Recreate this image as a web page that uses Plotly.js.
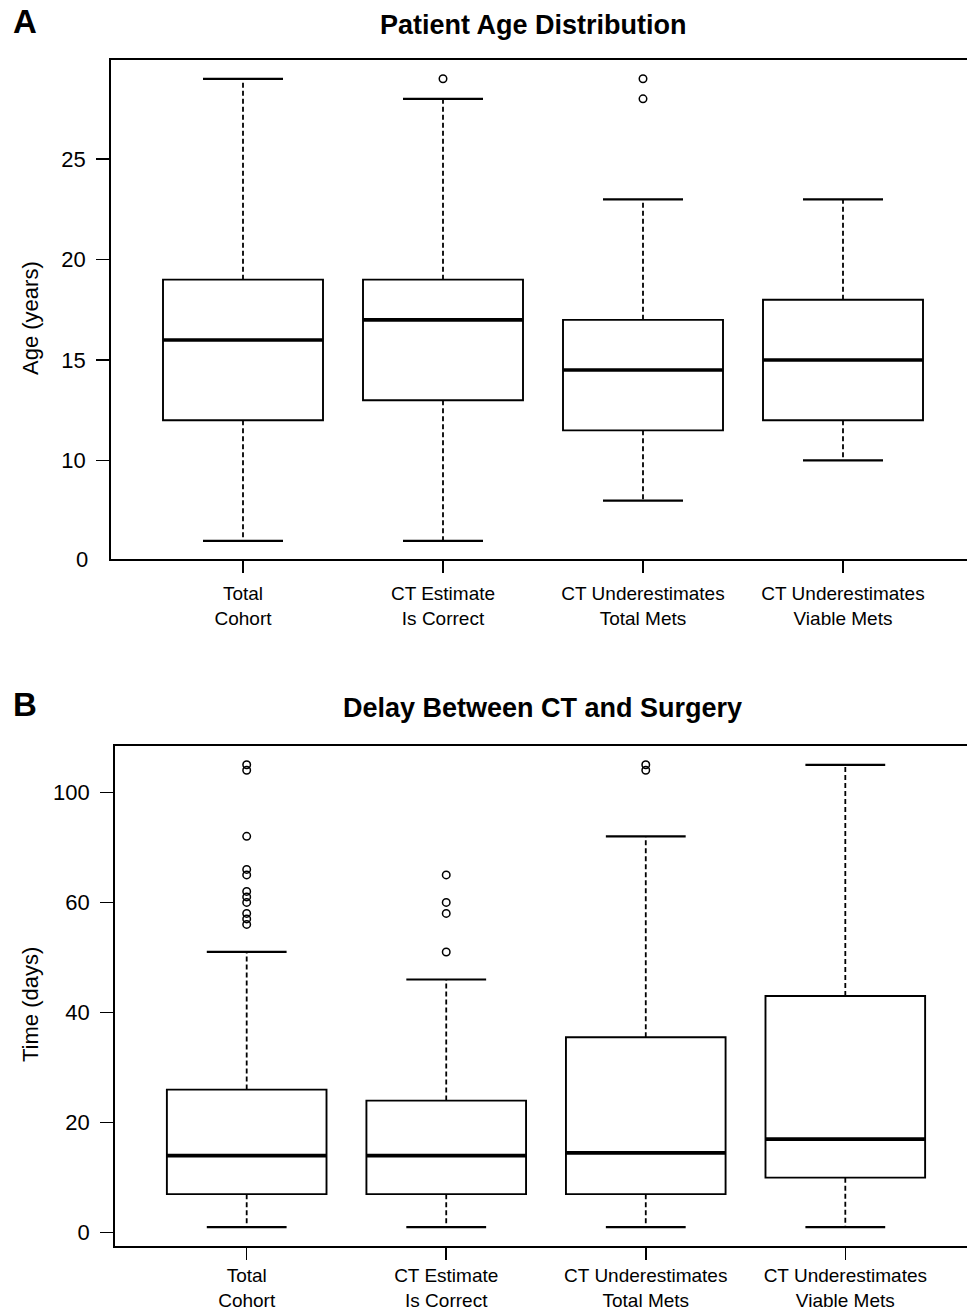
<!DOCTYPE html>
<html>
<head>
<meta charset="utf-8">
<script src="https://cdn.plot.ly/plotly-3.0.1.min.js"></script>
<style>
html,body{margin:0;padding:0;overflow:hidden;background:#fff}
#chart{width:977px;height:1312px}
</style>
</head>
<body>
<div id="chart"></div>
<script>
// ---------- data ----------
const categories = ['Total<br>Cohort', 'CT Estimate<br>Is Correct', 'CT Underestimates<br>Total Mets', 'CT Underestimates<br>Viable Mets'];
const positions = [1, 2, 3, 4];

// Panel A: Patient age (years)
const ageLower  = [6, 6, 8, 10];
const ageQ1     = [12, 13, 11.5, 12];
const ageMedian = [16, 17, 14.5, 15];
const ageQ3     = [19, 19, 17, 18];
const ageUpper  = [29, 28, 23, 23];
const ageOutliers = [[], [29], [28, 29], []];
const ageTickVals = [10, 15, 20, 25];
const ageTickText = ['10', '15', '20', '25'];

// Panel B: Delay between CT and surgery (days)
const delayLower  = [1, 1, 1, 1];
const delayQ1     = [7, 7, 7, 10];
const delayMedian = [14, 14, 14.5, 17];
const delayQ3     = [26, 24, 35.5, 43];
const delayUpper  = [51, 46, 72, 85];
const delayOutliers = [[85, 84, 72, 66, 65, 62, 61, 60, 58, 57, 56], [65, 60, 58, 51], [85, 84], []];
const delayTickVals = [0, 20, 40, 60, 80];
const delayTickText = ['0', '20', '40', '60', '100'];

// ---------- styling helpers ----------
const W = 977, H = 1312;
const px = x => x / W;
const py = y => 1 - y / H;
const FONT = 'Liberation Sans, Arial, Helvetica, sans-serif';
const BOX_HALF = 0.4, CAP_HALF = 0.2;

function panelTraces(xa, ya, lo, q1, med, q3, hi, outl) {
  const traces = [];
  // dashed whiskers
  const wx = [], wy = [];
  positions.forEach((p, i) => {
    wx.push(p, p, null, p, p, null);
    wy.push(q3[i], hi[i], null, q1[i], lo[i], null);
  });
  traces.push({type: 'scatter', mode: 'lines', x: wx, y: wy, xaxis: xa, yaxis: ya,
    line: {color: 'black', width: 1.8, dash: '5px,3px'}, hoverinfo: 'skip', showlegend: false});
  // caps
  const cx = [], cy = [];
  positions.forEach((p, i) => {
    cx.push(p - CAP_HALF, p + CAP_HALF, null, p - CAP_HALF, p + CAP_HALF, null);
    cy.push(hi[i], hi[i], null, lo[i], lo[i], null);
  });
  traces.push({type: 'scatter', mode: 'lines', x: cx, y: cy, xaxis: xa, yaxis: ya,
    line: {color: 'black', width: 2.2}, hoverinfo: 'skip', showlegend: false});
  // boxes
  traces.push({type: 'box', x: positions, q1: q1, median: med, q3: q3,
    lowerfence: q1, upperfence: q3, width: 2 * BOX_HALF, whiskerwidth: 0,
    boxpoints: false, fillcolor: 'white', line: {color: 'black', width: 1.9},
    xaxis: xa, yaxis: ya, hoverinfo: 'skip', showlegend: false});
  // thick medians
  const mx = [], my = [];
  positions.forEach((p, i) => {
    mx.push(p - BOX_HALF, p + BOX_HALF, null);
    my.push(med[i], med[i], null);
  });
  traces.push({type: 'scatter', mode: 'lines', x: mx, y: my, xaxis: xa, yaxis: ya,
    line: {color: 'black', width: 3.6}, hoverinfo: 'skip', showlegend: false});
  // outliers
  const ox = [], oy = [];
  positions.forEach((p, i) => outl[i].forEach(v => { ox.push(p); oy.push(v); }));
  traces.push({type: 'scatter', mode: 'markers', x: ox, y: oy, xaxis: xa, yaxis: ya,
    marker: {symbol: 'circle-open', size: 7.5, color: 'black', line: {width: 1.5, color: 'black'}},
    hoverinfo: 'skip', showlegend: false});
  return traces;
}

const data = [].concat(
  panelTraces('x', 'y', ageLower, ageQ1, ageMedian, ageQ3, ageUpper, ageOutliers),
  panelTraces('x2', 'y2', delayLower, delayQ1, delayMedian, delayQ3, delayUpper, delayOutliers)
);

const commonX = {
  tickvals: positions, ticktext: categories, ticks: 'outside', ticklen: 12, tickwidth: 1.5,
  tickcolor: 'black', showline: true, mirror: true, linewidth: 1.9, linecolor: 'black',
  showgrid: false, zeroline: false, tickfont: {family: FONT, size: 19, color: 'black'},
  fixedrange: true
};
const commonY = {
  ticks: 'outside', ticklen: 13, tickwidth: 1.5, tickcolor: 'black', showline: true,
  mirror: true, linewidth: 1.9, linecolor: 'black', showgrid: false, zeroline: false,
  tickfont: {family: FONT, size: 22, color: 'black'}, ticklabelstandoff: 6, fixedrange: true
};

const layout = {
  width: W, height: H,
  margin: {l: 0, r: 0, t: 0, b: 0},
  paper_bgcolor: 'white', plot_bgcolor: 'white',
  showlegend: false,
  xaxis: Object.assign({}, commonX, {domain: [px(111), px(975)], range: [0.34, 4.66], anchor: 'y',
    ticklabelstandoff: 4}),
  yaxis: Object.assign({}, commonY, {domain: [py(559.3), py(60.3)], range: [5.08, 29.92],
    tickvals: ageTickVals, ticktext: ageTickText, anchor: 'x'}),
  xaxis2: Object.assign({}, commonX, {domain: [px(115), px(977)], range: [0.34, 4.66], anchor: 'y2',
    ticklabelstandoff: 0}),
  yaxis2: Object.assign({}, commonY, {domain: [py(1245.7), py(746.3)], range: [-2.36, 88.36],
    tickvals: delayTickVals, ticktext: delayTickText, anchor: 'x2'}),
  annotations: [
    {text: '<b>A</b>', x: px(25), y: py(22), xref: 'paper', yref: 'paper', xanchor: 'center', yanchor: 'middle',
      showarrow: false, font: {family: FONT, size: 33, color: 'black'}},
    {text: '<b>Patient Age Distribution</b>', x: px(533), y: py(25), xref: 'paper', yref: 'paper',
      xanchor: 'center', yanchor: 'middle', showarrow: false, font: {family: FONT, size: 27, color: 'black'}},
    {text: 'Age (years)', x: px(30), y: py(318), xref: 'paper', yref: 'paper', textangle: -90,
      xanchor: 'center', yanchor: 'middle', showarrow: false, font: {family: FONT, size: 22, color: 'black'}},
    {text: '0', x: px(90), y: py(560), xref: 'paper', yref: 'paper', xanchor: 'right', yanchor: 'middle',
      showarrow: false, font: {family: FONT, size: 22, color: 'black'}},
    {text: '<b>B</b>', x: px(25), y: py(704), xref: 'paper', yref: 'paper', xanchor: 'center', yanchor: 'middle',
      showarrow: false, font: {family: FONT, size: 33, color: 'black'}},
    {text: '<b>Delay Between CT and Surgery</b>', x: px(542), y: py(708), xref: 'paper', yref: 'paper',
      xanchor: 'center', yanchor: 'middle', showarrow: false, font: {family: FONT, size: 27, color: 'black'}},
    {text: 'Time (days)', x: px(30), y: py(1005), xref: 'paper', yref: 'paper', textangle: -90,
      xanchor: 'center', yanchor: 'middle', showarrow: false, font: {family: FONT, size: 22, color: 'black'}}
  ]
};

Plotly.newPlot('chart', data, layout, {displayModeBar: false, staticPlot: true});
</script>
</body>
</html>
